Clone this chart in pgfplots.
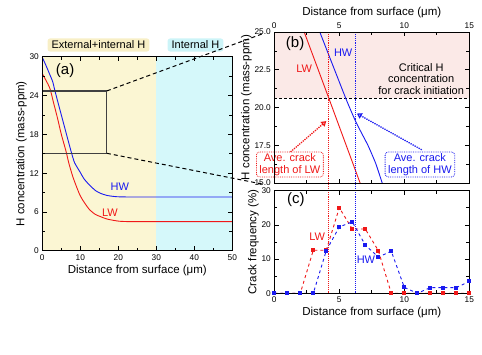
\documentclass[border=0pt]{standalone}
\usepackage{fontspec}
\setmainfont{Liberation Sans}
\usepackage{pgfplots}
\pgfplotsset{compat=1.18}
\usetikzlibrary{arrows.meta}
\definecolor{ybg}{HTML}{FBF6D3}
\definecolor{cbg}{HTML}{D5F8FA}
\definecolor{pbg}{HTML}{FBE9E7}
\definecolor{ylab}{HTML}{F8EFC6}
\definecolor{clab}{HTML}{CCF4F8}
\definecolor{myred}{HTML}{F01818}
\definecolor{myblue}{HTML}{1A1AF0}
\pgfplotsset{
  every axis/.append style={
    scale only axis, anchor=south west, axis on top,
    axis line style={line width=0.9pt},
    every tick/.style={black, line width=0.7pt},
    tick align=inside,
    ticklabel style={font=\fontsize{8.3}{10}\selectfont},
    label style={font=\fontsize{11.5}{13}\selectfont},
    /pgf/number format/assume math mode=true,
  }
}
\begin{document}
\begin{tikzpicture}
\path[use as bounding box] (0pt,0pt) rectangle (482pt,354pt);
% ---------------- (a)
\begin{axis}[name=a, at={(42.3pt,103.3pt)}, width=190pt, height=194pt,
  xmin=0, xmax=50, ymin=0, ymax=30,
  xtick={0,10,...,50}, ytick={0,6,...,30},
  minor x tick num=1, minor y tick num=1,
  xlabel={Distance from surface (μm)},
  ylabel={H concentration (mass-ppm)},
  ylabel style={yshift=-4pt}, xlabel style={yshift=2pt},
  clip=false]
\fill[ybg] (axis cs:0,0) rectangle (axis cs:30,30);
\fill[cbg] (axis cs:30,0) rectangle (axis cs:50,30);
\addplot[myblue, line width=0.9pt, smooth, tension=0.4] coordinates {
(0,29.9)(1,28.6)(2,27.2)(2.7,26.2)(3.3,24.8)(4,23.2)(5,21)(6,18.8)(7,16.6)(7.7,15.1)(8.5,13.6)(9.9,12.2)(11,11.1)(12.5,10.1)(14,9.3)(15.2,8.9)(17,8.55)(19.6,8.35)(25,8.3)(50,8.3)};
\addplot[myred, line width=0.9pt, smooth, tension=0.4] coordinates {
(0,27.4)(1,26.3)(2,25.1)(3,22.8)(4,20.5)(5,18)(6,15.9)(6.4,15)(7,13.5)(8,11.5)(9,9.9)(9.9,8.6)(11,7.5)(12.5,6.3)(14,5.6)(15.2,5.3)(17,4.9)(20.4,4.55)(25,4.5)(50,4.5)};
\draw[black!75, line width=1.1pt] (axis cs:0,15) rectangle (axis cs:17,24.7);
\node[myblue, font=\fontsize{11}{13}\selectfont] at (axis cs:20.4,9.9) {HW};
\node[myred, font=\fontsize{11}{13}\selectfont] at (axis cs:17.8,5.9) {LW};
\node[font=\fontsize{15}{17}\selectfont] at (axis cs:6,27.8) {(a)};
\end{axis}
\node[fill=ylab, rounded corners=2.5pt, inner xsep=4pt, inner ysep=2.5pt, font=\fontsize{11}{13}\selectfont] at (98.5pt,309pt) {External+internal H};
\node[fill=clab, rounded corners=2.5pt, inner xsep=4pt, inner ysep=2.5pt, font=\fontsize{11}{13}\selectfont] at (195.5pt,309pt) {Internal H};
% ---------------- (b)
\begin{axis}[name=b, at={(274.3pt,171pt)}, width=195pt, height=151pt,
  xmin=0, xmax=15, ymin=15, ymax=25,
  xtick={0,5,10,15}, ytick={15,17.5,...,25},
  minor x tick num=1, minor y tick num=1,
  xticklabel pos=upper,
  yticklabel style={/pgf/number format/fixed, /pgf/number format/fixed zerofill, /pgf/number format/precision=1},
  xlabel={Distance from surface (μm)},
  ylabel={H concentration (mass-ppm)},
  ylabel style={yshift=-4pt}, xlabel style={yshift=-2pt},
  clip=false]
\fill[pbg] (axis cs:0,20.6) rectangle (axis cs:15,25);
\draw[black, densely dashed, line width=0.9pt] (axis cs:0,20.6) -- (axis cs:15,20.6);
\addplot[myred, line width=0.9pt] coordinates {(2.3,25)(4.2,20.6)(6.6,15)};
\addplot[myblue, line width=0.9pt, smooth, tension=0.3] coordinates {(3.5,25)(5.5,20.6)(6.3,19)(7.2,17.5)(7.8,16.3)(8.3,15)};
\draw[myred, densely dotted, line width=0.9pt] (axis cs:4.15,15) -- (axis cs:4.15,25);
\draw[myblue, densely dotted, line width=0.9pt] (axis cs:6.26,15) -- (axis cs:6.26,25);
\node[font=\fontsize{15}{17}\selectfont] at (axis cs:1.6,24.2) {(b)};
\node[myred, font=\fontsize{11}{13}\selectfont] at (axis cs:2.3,22.6) {LW};
\node[myblue, font=\fontsize{11}{13}\selectfont] at (axis cs:5.3,23.65) {HW};
\node[align=center, font=\fontsize{11}{11.7}\selectfont] at (axis cs:11.3,21.9) {Critical H\\concentration\\for crack initiation};
\node[draw=myred, densely dotted, line width=0.8pt, rounded corners=3pt, text=myred, align=center, inner xsep=3pt, inner ysep=1.5pt, fill=white, font=\fontsize{11}{11.7}\selectfont] at (axis cs:1.2,16.23) {Ave. crack\\length of LW};
\node[draw=myblue, densely dotted, line width=0.8pt, rounded corners=3pt, text=myblue, align=center, inner xsep=3pt, inner ysep=1.5pt, fill=white, font=\fontsize{11}{11.7}\selectfont] at (axis cs:11.2,16.23) {Ave. crack\\length of HW};
\draw[myred, densely dotted, line width=1.3pt, -{Triangle[open, length=5pt, width=6pt]}] (axis cs:1.25,17.06) -- (axis cs:4.0,19.1);
\draw[myblue, densely dotted, line width=1.3pt, -{Triangle[open, length=5pt, width=6pt]}] (axis cs:11.34,17.2) -- (axis cs:6.35,19.6);
\end{axis}
% ---------------- (c)
\begin{axis}[name=c, at={(274.3pt,60.7pt)}, width=195pt, height=102.6pt,
  xmin=0, xmax=15, ymin=0, ymax=30,
  xtick={0,5,10,15}, ytick={0,10,20,30},
  minor x tick num=1, minor y tick num=1,
  xlabel={Distance from surface (μm)},
  ylabel={Crack frequency (\%)},
  ylabel style={yshift=-4pt}, xlabel style={yshift=2pt},
  clip=false]
\draw[myred, densely dotted, line width=0.9pt] (axis cs:4.15,0) -- (axis cs:4.15,32.5);
\draw[myblue, densely dotted, line width=0.9pt] (axis cs:6.26,0) -- (axis cs:6.26,32.5);
\addplot[myred, dashed, line width=0.9pt, mark=square*, mark size=1.6pt, mark options={solid}] coordinates {
(0,0)(1,0)(2,0)(3,12.6)(4,12.6)(5,25)(6,18.8)(7,18.8)(8,12.5)(9,0)(10,0)(11,0)(12,0)(13,0)(14,0)(15,0)};
\addplot[myblue, dashed, line width=0.9pt, mark=square*, mark size=1.6pt, mark options={solid}] coordinates {
(0,0)(1,0)(2,0)(3,0)(4,12.5)(5,19.4)(6,20.9)(7,14.1)(8,10.6)(9,12.3)(10,1.75)(11,0)(12,1.65)(13,1.65)(14,1.65)(15,3.5)};
\node[font=\fontsize{15}{17}\selectfont] at (axis cs:1.66,27.3) {(c)};
\node[myred, font=\fontsize{11}{13}\selectfont] at (axis cs:3.3,16.5) {LW};
\node[myblue, font=\fontsize{11}{13}\selectfont] at (axis cs:7.05,9.7) {HW};
\end{axis}
% connectors
\draw[black, line width=1pt, dash pattern=on 4pt off 3pt] (106.9pt,263.1pt) -- (262pt,320pt);
\draw[black, line width=1pt, dash pattern=on 4pt off 3pt] (106.9pt,200.7pt) -- (262pt,170pt);
\end{tikzpicture}
\end{document}
